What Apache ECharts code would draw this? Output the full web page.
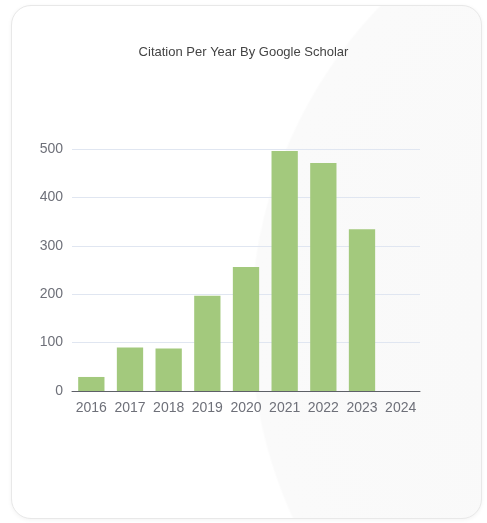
<!DOCTYPE html>
<html>
<head>
<meta charset="utf-8">
<script src="https://cdn.jsdelivr.net/npm/echarts@6/dist/echarts.min.js"></script>
<style>
  html, body { margin: 0; padding: 0; background: #fff; }
  .card {
    position: absolute; left: 11px; top: 5px; width: 469px; height: 512px;
    border-radius: 20px; border: 1px solid #e8e8e8;
    box-shadow: 0 1px 4px rgba(0,0,0,0.05);
    background:
      radial-gradient(circle at 700px 320px, #f8f8f8 0, #fafafa 460px, rgba(255,255,255,0) 462px),
      #fff;
    overflow: hidden;
  }
  #chart { position: absolute; left: 0; top: 0; width: 487px; height: 523px; }
</style>
</head>
<body>
<div class="card"></div>
<div id="chart"></div>
<script>
  // citations per year
  var years = ['2016', '2017', '2018', '2019', '2020', '2021', '2022', '2023', '2024'];
  var citations = [29, 90, 88, 197, 256, 496, 471, 334, 0];
  var yTicks = [0, 100, 200, 300, 400, 500];

  var fontFam = "'Liberation Sans Narrow', 'Liberation Sans', sans-serif";

  var chart = echarts.init(document.getElementById('chart'));
  var option = {
    backgroundColor: 'transparent',
    title: {
      text: 'Citation Per Year By Google Scholar',
      left: 'center',
      top: 41,
      textStyle: {
        fontSize: 13,
        fontWeight: 'normal',
        color: '#444',
        fontFamily: fontFam
      }
    },
    grid: {
      left: 72,
      right: 67,
      top: 149,
      bottom: 132
    },
    xAxis: {
      type: 'category',
      data: years,
      axisLine: { lineStyle: { color: '#5e6068' } },
      axisTick: { lineStyle: { color: '#5e6068' } },
      axisLabel: {
        interval: 0,
        color: '#6e7079',
        fontSize: 14,
        margin: 10,
        fontFamily: fontFam
      }
    },
    yAxis: {
      type: 'value',
      min: yTicks[0],
      max: yTicks[yTicks.length - 1],
      interval: 100,
      axisLabel: {
        color: '#6e7079',
        fontSize: 14,
        margin: 9,
        fontFamily: fontFam
      },
      splitLine: { lineStyle: { color: '#e0e6f1' } }
    },
    series: [{
      name: 'Citations',
      type: 'bar',
      barWidth: '68%',
      itemStyle: { color: '#a3c97d' },
      data: citations
    }]
  };
  chart.setOption(option);
</script>
</body>
</html>
